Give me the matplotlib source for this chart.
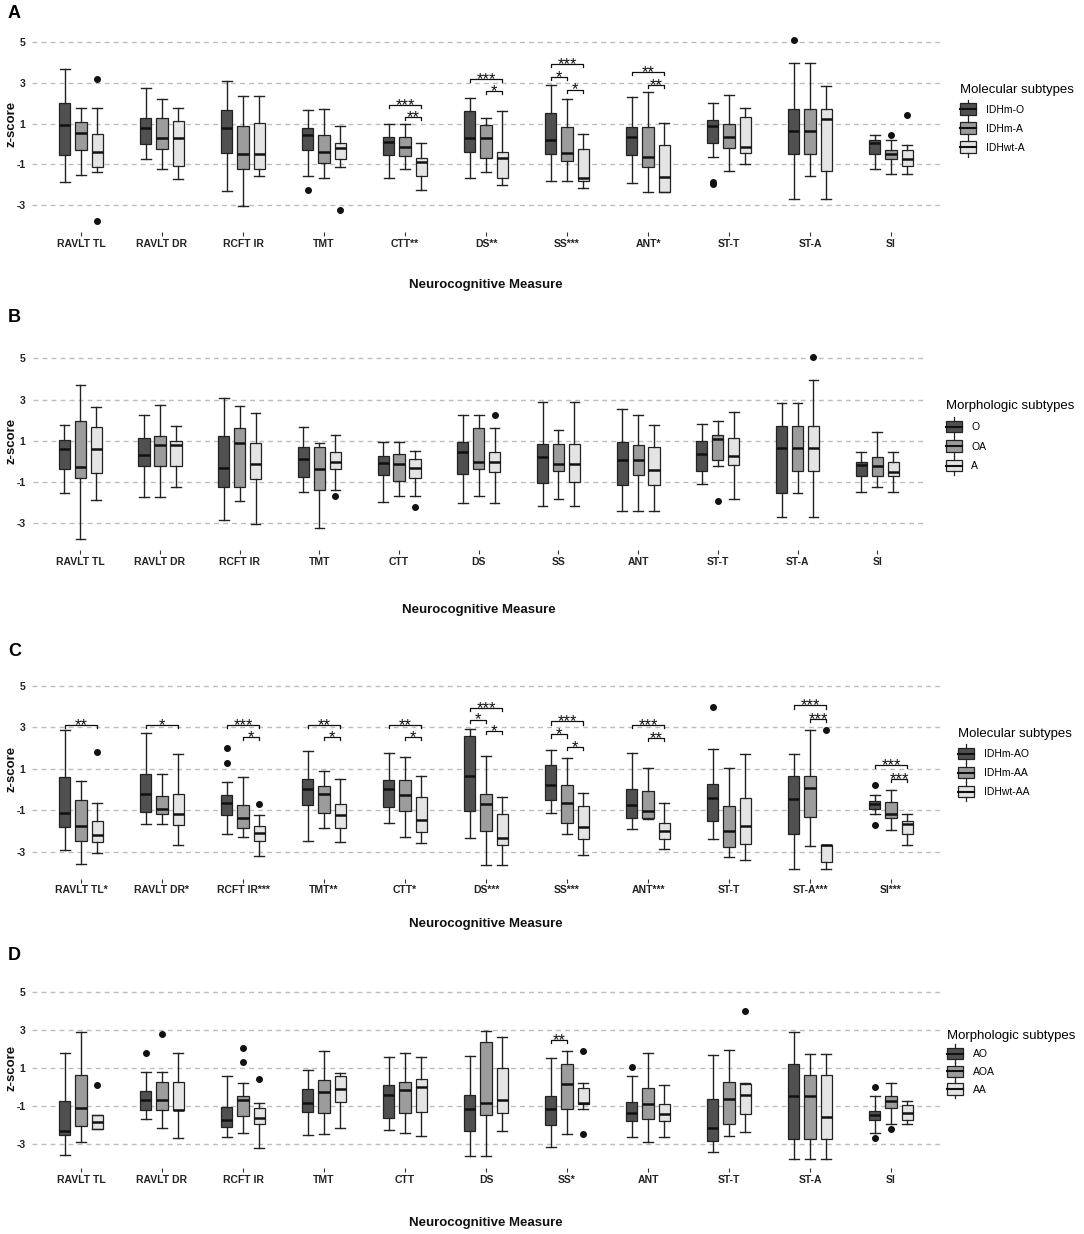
import matplotlib
matplotlib.use('Agg')
import matplotlib.pyplot as plt
from matplotlib.legend_handler import HandlerBase
from matplotlib.patches import Rectangle, Patch
from matplotlib.lines import Line2D

plt.rcParams['font.family'] = ['Liberation Sans', 'DejaVu Sans']

measures = ['RAVLT TL', 'RAVLT DR', 'RCFT IR', 'TMT', 'CTT', 'DS', 'SS', 'ANT', 'ST-T', 'ST-A', 'SI']
labels_a = ['RAVLT TL', 'RAVLT DR', 'RCFT IR', 'TMT', 'CTT**', 'DS**', 'SS***', 'ANT*', 'ST-T', 'ST-A', 'SI']
labels_b = measures
labels_c = ['RAVLT TL*', 'RAVLT DR*', 'RCFT IR***', 'TMT**', 'CTT*', 'DS***', 'SS***', 'ANT***', 'ST-T',
            'ST-A***', 'SI***']
labels_d = ['RAVLT TL', 'RAVLT DR', 'RCFT IR', 'TMT', 'CTT', 'DS', 'SS*', 'ANT', 'ST-T', 'ST-A', 'SI']

groups_a = ['IDHm-O', 'IDHm-A', 'IDHwt-A']
groups_b = ['O', 'OA', 'A']
groups_c = ['IDHm-AO', 'IDHm-AA', 'IDHwt-AA']
groups_d = ['AO', 'AOA', 'AA']

# (whisker low, Q1, median, Q3, whisker high) per measure
a_idhm_o = [(-1.86, -0.55, 0.92, 2.02, 3.70), (-0.73, 0.01, 0.79, 1.26, 2.73), (-2.32, -0.42, 0.76, 1.65, 3.07),
            (-1.59, -0.29, 0.42, 0.76, 1.66), (-1.69, -0.52, 0.08, 0.35, 0.97), (-1.69, -0.38, 0.30, 1.60, 2.26),
            (-1.83, -0.47, 0.21, 1.52, 2.88), (-1.90, -0.54, 0.34, 0.81, 2.28), (-0.63, 0.06, 0.89, 1.19, 2.02),
            (-2.72, -0.49, 0.64, 1.73, 3.98), (-1.23, -0.50, 0.03, 0.22, 0.45)]
a_idhm_a = [(-1.51, -0.31, 0.56, 1.08, 1.78), (-1.22, -0.25, 0.29, 1.26, 2.23), (-3.03, -1.23, -0.50, 0.89, 2.34),
            (-1.67, -0.93, -0.38, 0.43, 1.70), (-1.23, -0.57, -0.13, 0.32, 0.97), (-1.36, -0.70, 0.30, 0.95, 1.28),
            (-1.83, -0.81, -0.46, 0.84, 2.20), (-2.37, -1.15, -0.65, 0.81, 2.54), (-1.31, -0.21, 0.34, 0.98, 2.39),
            (-1.59, -0.49, 0.64, 1.73, 3.98), (-1.46, -0.75, -0.49, -0.29, 0.19)]
a_idhwt_a = [(-1.36, -1.15, -0.38, 0.48, 1.78), (-1.72, -1.07, 0.29, 1.13, 1.74), (-1.59, -1.23, -0.50, 1.02, 2.34),
             (-1.15, -0.76, -0.18, 0.03, 0.89), (-2.25, -1.56, -0.88, -0.70, 0.03), (-2.01, -1.69, -0.68, -0.38, 1.61),
             (-2.17, -1.83, -1.67, -0.23, 0.51), (-2.37, -2.37, -1.64, -0.05, 1.03), (-0.96, -0.46, -0.13, 1.32, 1.78),
             (-2.72, -1.33, 1.21, 1.73, 2.86), (-1.46, -1.10, -0.73, -0.29, -0.04)]
# (measure index, group index, value)
a_outliers = [(0, 2, 3.17), (0, 2, -3.77), (3, 0, -2.24), (3, 2, -3.24), (8, 0, -1.85), (8, 0, -1.95),
              (9, 0, 5.08), (10, 1, 0.45), (10, 2, 1.44)]
# (measure index, group 1, group 2, bracket height, stars)
a_signif = [(4, 0, 2, 1.92, '***'), (4, 1, 2, 1.32, '**'), (5, 0, 2, 3.17, '***'), (5, 1, 2, 2.60, '*'),
            (6, 0, 2, 3.91, '***'), (6, 0, 1, 3.28, '*'), (6, 1, 2, 2.67, '*'), (7, 0, 2, 3.51, '**'),
            (7, 1, 2, 2.88, '**')]

b_o = [(-1.52, -0.39, 0.58, 1.05, 1.77), (-1.71, -0.21, 0.29, 1.11, 2.23), (-2.85, -1.24, -0.32, 1.23, 3.05),
       (-1.48, -0.74, 0.10, 0.68, 1.68), (-1.98, -0.65, -0.06, 0.26, 0.94), (-2.00, -0.61, 0.44, 0.94, 2.24),
       (-2.15, -1.06, 0.21, 0.84, 2.87), (-2.39, -1.16, 0.08, 0.92, 2.53), (-1.10, -0.45, 0.34, 0.97, 1.79),
       (-2.69, -1.56, 0.65, 1.73, 2.84), (-1.47, -0.73, -0.18, -0.05, 0.45)]
b_oa = [(-3.76, -0.81, -0.27, 1.95, 3.68), (-1.71, -0.21, 0.77, 1.24, 2.73), (-1.95, -1.24, 0.90, 1.63, 2.69),
        (-3.23, -1.39, -0.39, 0.68, 0.89), (-1.66, -0.94, -0.15, 0.34, 0.95), (-1.66, -0.37, -0.05, 1.60, 2.24),
        (-1.81, -0.48, -0.15, 0.84, 1.53), (-2.39, -0.65, 0.08, 0.79, 2.27), (-0.23, 0.06, 1.06, 1.29, 1.97),
        (-1.56, -0.48, 0.65, 1.73, 2.84), (-1.23, -0.73, -0.23, 0.23, 1.42)]
b_a = [(-1.87, -0.56, 0.58, 1.68, 2.65), (-1.23, -0.21, 0.77, 1.00, 1.73), (-3.02, -0.87, -0.15, 0.90, 2.34),
       (-1.37, -0.35, -0.02, 0.47, 1.26), (-1.68, -0.79, -0.32, 0.13, 0.50), (-2.00, -0.53, -0.05, 0.45, 1.60),
       (-2.15, -1.00, -0.15, 0.84, 2.87), (-2.39, -1.16, -0.42, 0.69, 1.77), (-1.82, -0.19, 0.27, 1.15, 2.40),
       (-2.69, -0.48, 0.65, 1.73, 3.97), (-1.47, -0.73, -0.50, -0.02, 0.45)]
b_outliers = [(3, 2, -1.66), (4, 2, -2.23), (5, 2, 2.24), (8, 1, -1.94), (9, 2, 5.08)]
b_signif = []

c_idhm_ao = [(-2.92, -1.80, -1.15, 0.61, 2.86), (-1.69, -1.09, -0.21, 0.76, 2.73), (-2.13, -1.23, -0.67, -0.25, 0.38),
             (-2.51, -0.75, 0.03, 0.51, 1.84), (-1.61, -0.85, 0.03, 0.45, 1.78), (-2.34, -1.02, 0.64, 2.59, 2.93),
             (-1.14, -0.49, 0.20, 1.19, 1.89), (-1.90, -1.40, -0.77, 0.02, 1.78), (-2.39, -1.53, -0.39, 0.28, 1.96),
             (-3.83, -2.13, -0.47, 0.63, 1.74), (-1.20, -0.93, -0.70, -0.54, -0.26)]
c_idhm_aa = [(-3.60, -2.51, -1.77, -0.52, 0.40), (-1.69, -1.20, -0.94, -0.33, 0.76), (-2.29, -1.87, -1.40, -0.73, 0.60),
             (-1.87, -1.14, -0.23, 0.17, 0.89), (-2.30, -1.06, -0.28, 0.45, 1.58), (-3.66, -2.01, -0.68, -0.20, 1.62),
             (-2.14, -1.64, -0.63, 0.20, 1.53), (-1.43, -1.40, -1.03, -0.06, 1.05), (-3.27, -2.77, -2.01, -0.80, 1.05),
             (-2.72, -1.33, 0.09, 0.63, 2.88), (-1.94, -1.40, -1.18, -0.62, -0.02)]
c_idhwt_aa = [(-3.06, -2.55, -2.19, -1.51, -0.65), (-2.69, -1.70, -1.19, -0.23, 1.74),
              (-3.21, -2.50, -2.09, -1.77, -1.22), (-2.55, -1.88, -1.25, -0.72, 0.53),
              (-2.58, -2.06, -1.45, -0.38, 0.63), (-3.66, -2.68, -2.35, -1.19, -0.34),
              (-3.16, -2.40, -1.83, -0.80, -0.16), (-2.87, -2.38, -2.01, -1.64, -0.65),
              (-3.43, -2.64, -1.74, -0.41, 1.71), (-3.83, -3.50, -2.69, -2.69, -2.69),
              (-2.66, -2.13, -1.66, -1.53, -1.20)]
c_outliers = [(0, 2, 1.79), (2, 0, 2.00), (2, 0, 1.28), (2, 2, -0.68), (8, 0, 3.97), (9, 2, 2.88),
              (10, 0, 0.24), (10, 0, -1.70)]
c_signif = [(0, 0, 2, 3.12, '**'), (1, 0, 2, 3.12, '*'), (2, 0, 2, 3.12, '***'), (2, 1, 2, 2.52, '*'),
            (3, 0, 2, 3.12, '**'), (3, 1, 2, 2.52, '*'), (4, 0, 2, 3.12, '**'), (4, 1, 2, 2.52, '*'),
            (5, 0, 2, 3.95, '***'), (5, 0, 1, 3.38, '*'), (5, 1, 2, 2.81, '*'), (6, 0, 2, 3.29, '***'),
            (6, 0, 1, 2.66, '*'), (6, 1, 2, 2.06, '*'), (7, 0, 2, 3.11, '***'), (7, 1, 2, 2.50, '**'),
            (9, 0, 2, 4.06, '***'), (9, 1, 2, 3.40, '***'), (10, 0, 2, 1.19, '***'), (10, 1, 2, 0.50, '***')]

d_ao = [(-3.58, -2.56, -2.35, -0.74, 1.79), (-1.70, -1.21, -0.68, -0.23, 0.77), (-2.65, -2.12, -1.75, -1.05, 0.58),
        (-2.54, -1.32, -0.88, -0.14, 0.89), (-2.30, -1.67, -0.44, 0.07, 1.58), (-3.65, -2.33, -1.16, -0.44, 1.63),
        (-3.19, -1.99, -1.17, -0.51, 1.51), (-2.64, -1.78, -1.40, -0.80, 0.54), (-3.43, -2.87, -2.15, -0.65, 1.68),
        (-3.83, -2.73, -0.49, 1.18, 2.86), (-2.43, -1.73, -1.47, -1.26, -0.51)]
d_aoa = [(-2.89, -2.05, -1.14, 0.61, 2.86), (-2.19, -1.21, -0.68, 0.26, 0.77), (-2.46, -1.56, -0.68, -0.51, 0.21),
         (-2.49, -1.37, -0.30, 0.35, 1.86), (-2.42, -1.40, -0.18, 0.25, 1.77), (-3.65, -1.51, -0.86, 2.35, 2.95),
         (-2.49, -1.17, 0.16, 1.18, 1.88), (-2.91, -1.68, -0.91, -0.07, 1.77), (-2.57, -1.96, -0.66, 0.23, 1.93),
         (-3.83, -2.73, -0.49, 0.61, 1.74), (-1.96, -1.12, -0.75, -0.51, 0.19)]
d_aa = [(-2.21, -2.21, -1.84, -1.51, -1.51), (-2.68, -1.21, -1.21, 0.26, 1.75), (-3.21, -1.98, -1.65, -1.14, -0.88),
        (-2.19, -0.79, -0.14, 0.56, 0.74), (-2.58, -1.32, 0.00, 0.42, 1.58), (-2.33, -1.37, -0.68, 0.96, 2.60),
        (-1.15, -0.93, -0.86, -0.09, 0.18), (-2.64, -1.78, -1.43, -0.91, 0.07), (-2.40, -1.43, -0.45, 0.12, 0.18),
        (-3.83, -2.73, -1.57, 0.61, 1.74), (-1.96, -1.73, -1.40, -0.94, -0.75)]
d_outliers = [(0, 2, 0.07), (1, 0, 1.75), (1, 1, 2.75), (2, 1, 2.02), (2, 1, 1.28), (2, 2, 0.39), (6, 2, 1.86),
              (6, 2, -2.49), (7, 0, 1.04), (8, 2, 3.96), (10, 0, -0.03), (10, 0, -2.70), (10, 1, -2.20)]
d_signif = [(6, 0, 1, 2.44, '**')]

fills = ['#505050', '#9c9c9c', '#e4e4e4']
edge = '#222222'
offsets = [-0.2, 0.0, 0.2]

W, H = 1084, 1234


class BoxKey(HandlerBase):
    def create_artists(self, legend, orig_handle, xdescent, ydescent, width, height, fontsize, trans):
        x0 = -xdescent
        cy = -ydescent + height / 2
        hb = 0.55 * fontsize
        hw = 0.9 * fontsize
        box = Rectangle((x0, cy - hb), width, 2 * hb, facecolor=orig_handle.get_facecolor(),
                        edgecolor=edge, linewidth=0.9, transform=trans)
        med = Line2D([x0, x0 + width], [cy, cy], color='#111111', linewidth=1.5, transform=trans)
        w1 = Line2D([x0 + width / 2] * 2, [cy + hb, cy + hw], color=edge, linewidth=0.9, transform=trans)
        w2 = Line2D([x0 + width / 2] * 2, [cy - hb, cy - hw], color=edge, linewidth=0.9, transform=trans)
        return [box, med, w1, w2]


def draw_panel(ax, series, outliers, signif, xlabels):
    for g, stats in enumerate(series):
        bstats = []
        for m, (lo, q1, med, q3, hi) in enumerate(stats):
            fl = [v for (mm, gg, v) in outliers if mm == m and gg == g]
            bstats.append(dict(whislo=lo, q1=q1, med=med, q3=q3, whishi=hi, fliers=fl))
        pos = [m + 1 + offsets[g] for m in range(len(stats))]
        ax.bxp(bstats, positions=pos, widths=0.14, capwidths=0.12, patch_artist=True, manage_ticks=False,
               boxprops=dict(facecolor=fills[g], edgecolor=edge, linewidth=0.9),
               medianprops=dict(color='#111111', linewidth=1.8),
               whiskerprops=dict(color=edge, linewidth=1.0),
               capprops=dict(color=edge, linewidth=1.0),
               flierprops=dict(marker='o', markerfacecolor='#111111', markeredgecolor='#111111', markersize=4),
               zorder=3)
    for m, g1, g2, y, lab in signif:
        x1 = m + 1 + offsets[g1]
        x2 = m + 1 + offsets[g2]
        ax.plot([x1, x1, x2, x2], [y - 0.15, y, y, y - 0.15], color='#111111', linewidth=0.9, zorder=4)
        ax.annotate(lab, xy=((x1 + x2) / 2, y), xytext=(0, -3.5), textcoords='offset points',
                    ha='center', va='baseline', fontsize=12, color='#111111')
    ax.set_xlim(0.4, 11.6)
    ax.set_ylim(-4.3, 5.5)
    ax.set_xticks(range(1, 12))
    ax.set_xticklabels(xlabels)
    ax.set_yticks([-3, -1, 1, 3, 5])
    ax.set_yticklabels(['-3', '-1', '1', '3', '5'])
    ax.tick_params(axis='x', length=3, width=0.8, color='#333333', pad=2, labelsize=7.5, labelcolor='#222222')
    ax.tick_params(axis='y', length=0, pad=5, labelsize=7.5, labelcolor='#222222')
    for t in ax.get_xticklabels() + ax.get_yticklabels():
        t.set_fontweight('bold')
    ax.yaxis.grid(True, linestyle=(0, (3.5, 3)), color='#bdbdbd', linewidth=1.0)
    ax.set_axisbelow(True)
    for s in ax.spines.values():
        s.set_visible(False)


fig = plt.figure(figsize=(W / 100, H / 100), dpi=100)

panels = [
    ('A', (32.4, 31.8, 939.6, 231.7), [a_idhm_o, a_idhm_a, a_idhwt_a], a_outliers, a_signif, labels_a,
     'Molecular subtypes', groups_a, 14, 285, (960, 83.5), 0.85),
    ('B', (32.5, 348.0, 925.0, 549.9), [b_o, b_oa, b_a], b_outliers, b_signif, labels_b,
     'Morphologic subtypes', groups_b, 318, 610, (945.5, 400.5), 0.9),
    ('C', (32.4, 675.7, 939.6, 878.5), [c_idhm_ao, c_idhm_aa, c_idhwt_aa], c_outliers, c_signif, labels_c,
     'Molecular subtypes', groups_c, 652, 924, (958, 728), 0.85),
    ('D', (32.4, 982.2, 939.6, 1168.4), [d_ao, d_aoa, d_aa], d_outliers, d_signif, labels_d,
     'Morphologic subtypes', groups_d, 955, 1223, (947, 1029.5), 0.72),
]

for letter, (l, t, r, b), series, outl, sig, xl, ltitle, gnames, ly, xly, lpos, lsp in panels:
    ax = fig.add_axes([l / W, 1 - b / H, (r - l) / W, (b - t) / H])
    draw_panel(ax, series, outl, sig, xl)
    hpx = b - t
    ax.set_xlabel('Neurocognitive Measure', fontsize=9.5, fontweight='bold', color='#111111')
    ax.xaxis.set_label_coords(0.5, -(xly - b) / hpx)
    ax.xaxis.label.set_verticalalignment('center')
    ax.set_ylabel('z-score', fontsize=9.5, fontweight='bold', color='#111111')
    ax.yaxis.set_label_coords((12 - l) / (r - l), (1 + 4.3) / 9.8)
    ax.yaxis.label.set_verticalalignment('center')
    fig.text(8 / W, 1 - ly / H, letter, fontsize=13, fontweight='bold', va='center', ha='left')
    handles = [Patch(facecolor=fills[i], edgecolor=edge, label=gnames[i]) for i in range(3)]
    fig.legend(handles=handles, loc='upper left', bbox_to_anchor=(lpos[0] / W, 1 - lpos[1] / H),
               bbox_transform=fig.transFigure, frameon=False, borderpad=0, borderaxespad=0,
               title=ltitle, title_fontsize=9.5, fontsize=7.5, handlelength=1.55, handleheight=1.0,
               handletextpad=0.9, labelspacing=lsp, alignment='left', handler_map={Patch: BoxKey()})

fig.savefig('out.png', dpi=100)
